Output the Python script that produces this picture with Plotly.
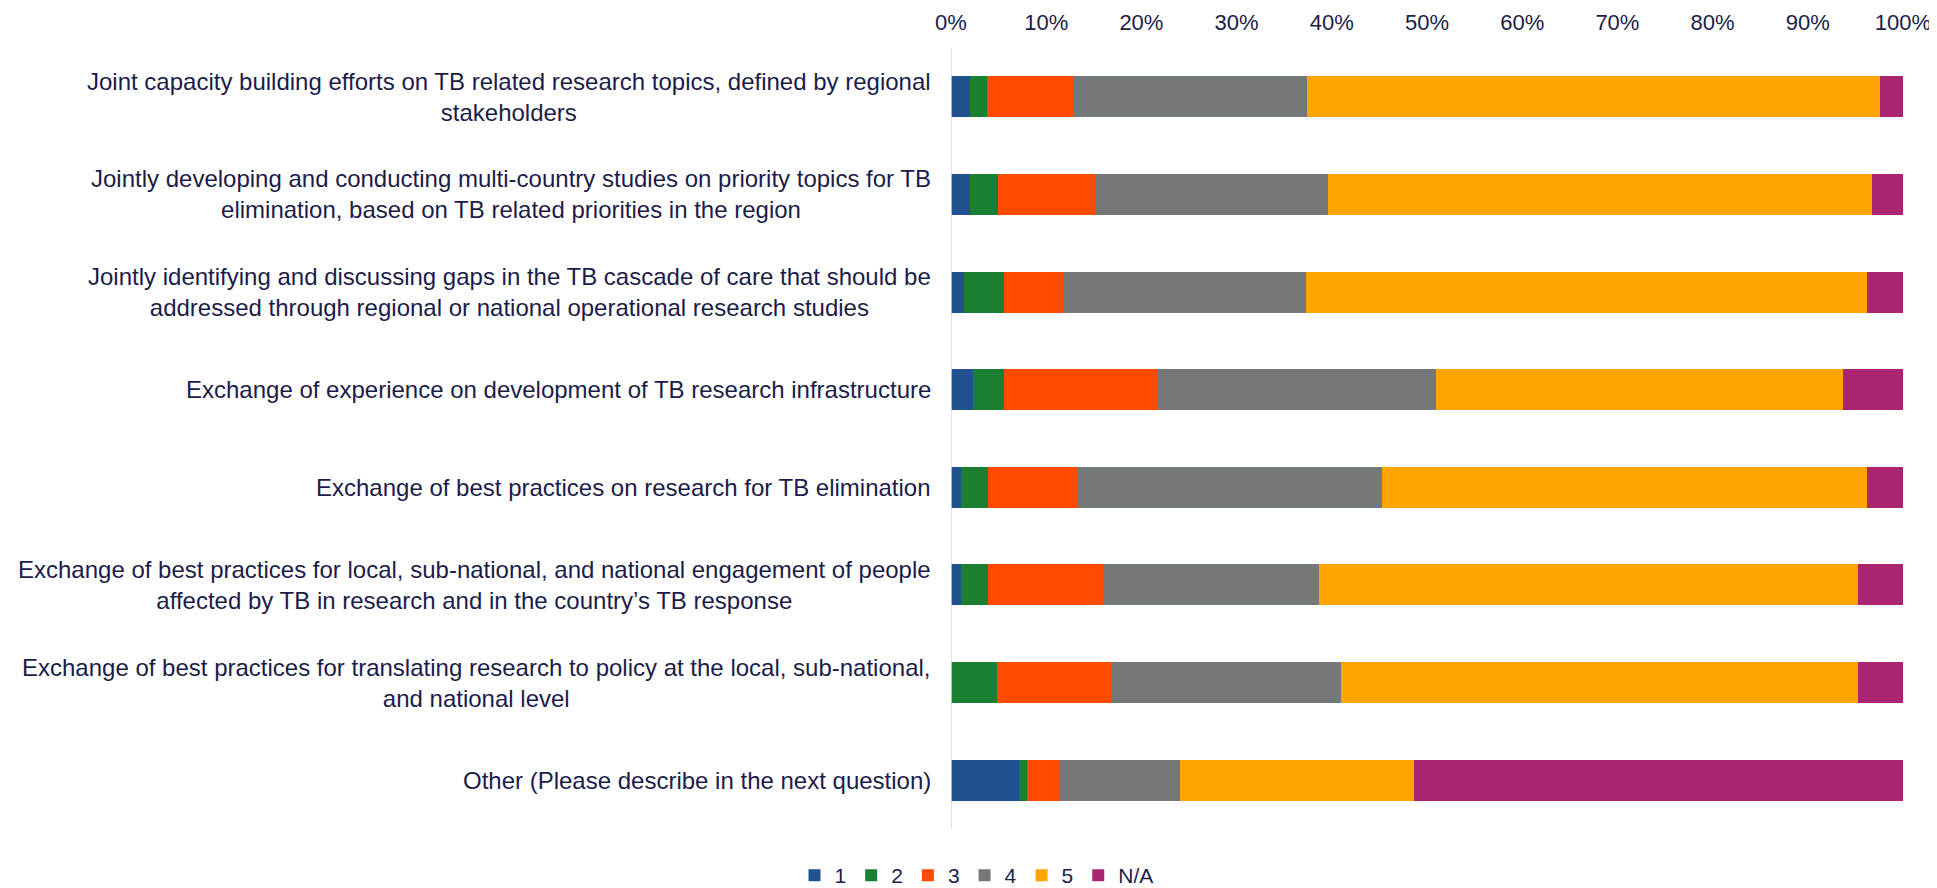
import plotly.graph_objects as go

# survey items, top to bottom
categories = [
    "Joint capacity building efforts on TB related research topics, defined by regional<br>stakeholders",
    "Jointly developing and conducting multi-country studies on priority topics for TB<br>elimination, based on TB related priorities in the region",
    "Jointly identifying and discussing gaps in the TB cascade of care that should be<br>addressed through regional or national operational research studies",
    "Exchange of experience on development of TB research infrastructure",
    "Exchange of best practices on research for TB elimination",
    "Exchange of best practices for local, sub-national, and national engagement of people<br>affected by TB in research and in the country’s TB response",
    "Exchange of best practices for translating research to policy at the local, sub-national,<br>and national level",
    "Other (Please describe in the next question)",
]

# share of responses (%) per rating
score_1 = [2.0, 2.0, 1.4, 2.3, 1.1, 1.1, 0.0, 7.1]
score_2 = [1.8, 2.9, 4.2, 3.3, 2.8, 2.8, 4.8, 0.9]
score_3 = [9.0, 10.2, 6.2, 16.1, 9.4, 12.1, 12.1, 3.4]
score_4 = [24.6, 24.5, 25.5, 29.2, 32.0, 22.7, 24.1, 12.7]
score_5 = [60.2, 57.1, 58.9, 42.8, 50.9, 56.6, 54.3, 24.5]
score_na = [2.4, 3.3, 3.8, 6.3, 3.8, 4.7, 4.7, 51.4]

series = [
    ("1", score_1, "#21528f"),
    ("2", score_2, "#1a7f31"),
    ("3", score_3, "#ff4b00"),
    ("4", score_4, "#75787b"),
    ("5", score_5, "#ffa400"),
    ("N/A", score_na, "#ab2470"),
]

text_color = "#1c1c4a"
font_family = "Liberation Sans, Arial, sans-serif"

fig = go.Figure()
for name, vals, color in series:
    fig.add_trace(go.Bar(
        y=categories,
        x=vals,
        name=name,
        orientation="h",
        marker=dict(color=color, line=dict(width=0)),
    ))

# category labels as annotations so wrapped lines stay centred
for cat in categories:
    fig.add_annotation(
        x=0, xref="paper", y=cat, yref="y",
        xshift=-18,
        text=cat, showarrow=False,
        xanchor="right", align="center",
        font=dict(size=24, color=text_color, family=font_family),
    )

fig.update_layout(
    barmode="stack",
    bargap=0.58,
    width=1937,
    height=888,
    margin=dict(l=943, r=42, t=40, b=67),
    paper_bgcolor="white",
    plot_bgcolor="white",
    font=dict(family=font_family, color=text_color),
    legend=dict(
        orientation="h",
        xref="container", x=0.5, xanchor="center",
        yref="container", y=0.0, yanchor="bottom",
        font=dict(size=21, color=text_color),
        itemwidth=30,
        traceorder="normal",
    ),
    xaxis=dict(
        side="top",
        range=[0, 100],
        tick0=0,
        dtick=10,
        ticksuffix="%",
        ticks="outside",
        ticklen=8,
        tickcolor="rgba(0,0,0,0)",
        showgrid=False,
        zeroline=False,
        showline=False,
        automargin=False,
        tickfont=dict(size=22, color=text_color),
        fixedrange=True,
    ),
    yaxis=dict(
        autorange="reversed",
        showticklabels=False,
        showgrid=False,
        zeroline=False,
        showline=False,
        automargin=False,
        ticks="",
    ),
    shapes=[dict(
        type="line", xref="x", yref="paper",
        x0=0, x1=0, y0=0, y1=1,
        line=dict(color="#d9d9d9", width=1.5),
    )],
)

fig.write_html("out.html")
